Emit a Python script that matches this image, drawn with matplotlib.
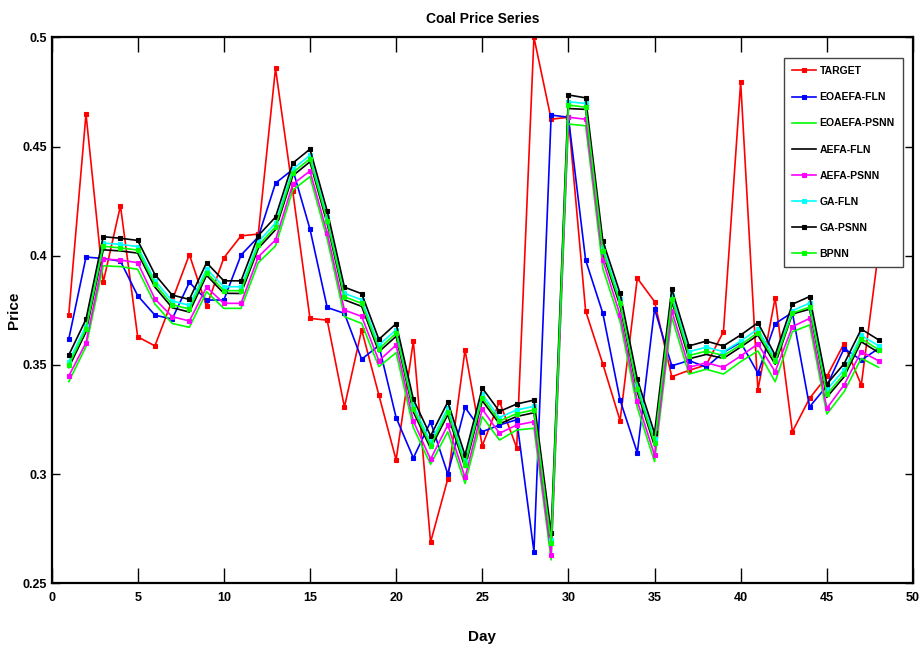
import numpy as np
import matplotlib
matplotlib.use('Agg')
import matplotlib.pyplot as plt
from matplotlib.ticker import MultipleLocator, FuncFormatter

plt.rcParams.update({
    'font.family': ['Liberation Sans Narrow', 'Liberation Sans', 'DejaVu Sans'],
    'font.stretch': 'condensed',
    'font.weight': 'bold',
    'axes.linewidth': 1.6,
})

days = np.arange(1, 49)

target = [0.3730, 0.4649, 0.3878, 0.4229, 0.3629, 0.3587, 0.3795, 0.4005, 0.3768, 0.3990,
          0.4091, 0.4099, 0.4858, 0.4295, 0.3713, 0.3705, 0.3307, 0.3661, 0.3362, 0.3065,
          0.3609, 0.2688, 0.2978, 0.3568, 0.3130, 0.3332, 0.3121, 0.5000, 0.4625, 0.4634,
          0.3747, 0.3504, 0.3245, 0.3897, 0.3790, 0.3446, 0.3475, 0.3500, 0.3652, 0.4794,
          0.3385, 0.3807, 0.3194, 0.3347, 0.3447, 0.3598, 0.3408, 0.4020]

eoaefa_fln = [0.3618, 0.3994, 0.3987, 0.3975, 0.3817, 0.3728, 0.3710, 0.3878, 0.3797, 0.3797,
              0.4003, 0.4086, 0.4332, 0.4395, 0.4122, 0.3763, 0.3736, 0.3526, 0.3589, 0.3259,
              0.3074, 0.3240, 0.3000, 0.3306, 0.3194, 0.3225, 0.3249, 0.2645, 0.4644, 0.4634,
              0.3980, 0.3736, 0.3339, 0.3098, 0.3757, 0.3496, 0.3520, 0.3490, 0.3558, 0.3603,
              0.3462, 0.3689, 0.3740, 0.3308, 0.3404, 0.3575, 0.3522, 0.3575]

eoaefa_psnn = [0.3423, 0.3584, 0.3954, 0.3950, 0.3938, 0.3779, 0.3690, 0.3672, 0.3835, 0.3759,
               0.3759, 0.3968, 0.4045, 0.4300, 0.4362, 0.4076, 0.3721, 0.3690, 0.3492, 0.3556,
               0.3213, 0.3045, 0.3194, 0.2957, 0.3263, 0.3156, 0.3202, 0.3210, 0.2607, 0.4603,
               0.4595, 0.3942, 0.3698, 0.3305, 0.3057, 0.3718, 0.3458, 0.3480, 0.3458, 0.3515,
               0.3564, 0.3423, 0.3652, 0.3683, 0.3275, 0.3377, 0.3530, 0.3489]

aefa_fln = [0.3488, 0.3651, 0.4027, 0.4022, 0.4012, 0.3856, 0.3762, 0.3742, 0.3910, 0.3828,
            0.3827, 0.4034, 0.4119, 0.4366, 0.4430, 0.4147, 0.3798, 0.3768, 0.3560, 0.3631,
            0.3285, 0.3118, 0.3272, 0.3030, 0.3336, 0.3230, 0.3264, 0.3281, 0.2671, 0.4674,
            0.4670, 0.4010, 0.3770, 0.3376, 0.3129, 0.3790, 0.3528, 0.3548, 0.3530, 0.3582,
            0.3636, 0.3503, 0.3733, 0.3755, 0.3352, 0.3445, 0.3606, 0.3557]

aefa_psnn = [0.3449, 0.3602, 0.3985, 0.3980, 0.3968, 0.3802, 0.3721, 0.3701, 0.3856, 0.3782,
             0.3782, 0.3995, 0.4072, 0.4327, 0.4388, 0.4103, 0.3751, 0.3722, 0.3519, 0.3591,
             0.3243, 0.3068, 0.3225, 0.2985, 0.3297, 0.3187, 0.3225, 0.3240, 0.2630, 0.4634,
             0.4625, 0.3980, 0.3728, 0.3334, 0.3087, 0.3748, 0.3489, 0.3510, 0.3489, 0.3541,
             0.3596, 0.3469, 0.3675, 0.3713, 0.3301, 0.3408, 0.3561, 0.3519]

ga_fln = [0.3515, 0.3680, 0.4058, 0.4052, 0.4042, 0.3886, 0.3793, 0.3773, 0.3940, 0.3858,
          0.3858, 0.4064, 0.4149, 0.4396, 0.4460, 0.4177, 0.3828, 0.3798, 0.3590, 0.3661,
          0.3316, 0.3148, 0.3303, 0.3060, 0.3366, 0.3259, 0.3294, 0.3310, 0.2700, 0.4705,
          0.4697, 0.4040, 0.3800, 0.3406, 0.3160, 0.3820, 0.3561, 0.3581, 0.3561, 0.3609,
          0.3664, 0.3530, 0.3748, 0.3783, 0.3386, 0.3478, 0.3635, 0.3588]

ga_psnn = [0.3545, 0.3709, 0.4087, 0.4080, 0.4070, 0.3914, 0.3820, 0.3800, 0.3968, 0.3885,
           0.3885, 0.4092, 0.4177, 0.4424, 0.4488, 0.4205, 0.3856, 0.3826, 0.3617, 0.3689,
           0.3343, 0.3175, 0.3330, 0.3087, 0.3394, 0.3287, 0.3321, 0.3339, 0.2729, 0.4736,
           0.4723, 0.4067, 0.3828, 0.3434, 0.3187, 0.3848, 0.3587, 0.3609, 0.3587, 0.3637,
           0.3693, 0.3545, 0.3778, 0.3813, 0.3412, 0.3505, 0.3664, 0.3615]

bpnn = [0.3500, 0.3664, 0.4043, 0.4036, 0.4026, 0.3870, 0.3776, 0.3756, 0.3923, 0.3840,
        0.3840, 0.4047, 0.4132, 0.4380, 0.4444, 0.4160, 0.3812, 0.3782, 0.3573, 0.3645,
        0.3298, 0.3131, 0.3286, 0.3043, 0.3350, 0.3243, 0.3277, 0.3294, 0.2685, 0.4690,
        0.4680, 0.4023, 0.3784, 0.3390, 0.3142, 0.3803, 0.3543, 0.3563, 0.3543, 0.3592,
        0.3648, 0.3516, 0.3737, 0.3765, 0.3365, 0.3458, 0.3620, 0.3570]

# (label, values, color, marker)
series = [
    ('TARGET', target, (1, 0, 0), 's'),
    ('EOAEFA-FLN', eoaefa_fln, (0, 0, 1), 's'),
    ('EOAEFA-PSNN', eoaefa_psnn, (0, 1, 0), None),
    ('AEFA-FLN', aefa_fln, (0, 0, 0), None),
    ('AEFA-PSNN', aefa_psnn, (1, 0, 1), 's'),
    ('GA-FLN', ga_fln, (0, 1, 1), 's'),
    ('GA-PSNN', ga_psnn, (0, 0, 0), 's'),
    ('BPNN', bpnn, (0, 1, 0), 's'),
]

fig = plt.figure(figsize=(9.22, 6.49), dpi=100)
ax = fig.add_axes([0.0559, 0.1012, 0.9343, 0.8413])

for name, vals, col, mk in series:
    ax.plot(days, vals, color=col, linewidth=1.2, marker=mk, markersize=2.6,
            markeredgewidth=0.8, label=name)

ax.set_xlim(0, 50)
ax.set_ylim(0.25, 0.5)
ax.xaxis.set_major_locator(MultipleLocator(5))
ax.yaxis.set_major_locator(MultipleLocator(0.05))
ax.yaxis.set_major_formatter(FuncFormatter(lambda v, p: '%g' % round(v, 2)))
ax.tick_params(axis='x', direction='in', length=11, width=1.0, top=True,
               labelsize=9, pad=6)
ax.tick_params(axis='y', direction='in', length=6, width=1.0, right=True,
               labelsize=9, pad=3)
for lbl in ax.get_xticklabels() + ax.get_yticklabels():
    lbl.set_fontweight('bold')

ax.set_title('Coal Price Series', fontsize=10, fontweight='bold', pad=10)
ax.set_xlabel('Day', fontsize=11, fontweight='bold')
ax.set_ylabel('Price', fontsize=11, fontweight='bold')
ax.xaxis.set_label_coords(0.5, -0.085)
ax.yaxis.set_label_coords(-0.035, 0.5)

leg = ax.legend(loc='upper right', bbox_to_anchor=(0.9888, 0.9626), fontsize=7.5,
                fancybox=False, framealpha=1, edgecolor='#444444',
                handlelength=2.3, labelspacing=1.55, borderpad=0.8,
                handletextpad=0.35, borderaxespad=0)
leg.get_frame().set_linewidth(1.0)
for t in leg.get_texts():
    t.set_fontweight('bold')

fig.savefig('out.png', dpi=100)
